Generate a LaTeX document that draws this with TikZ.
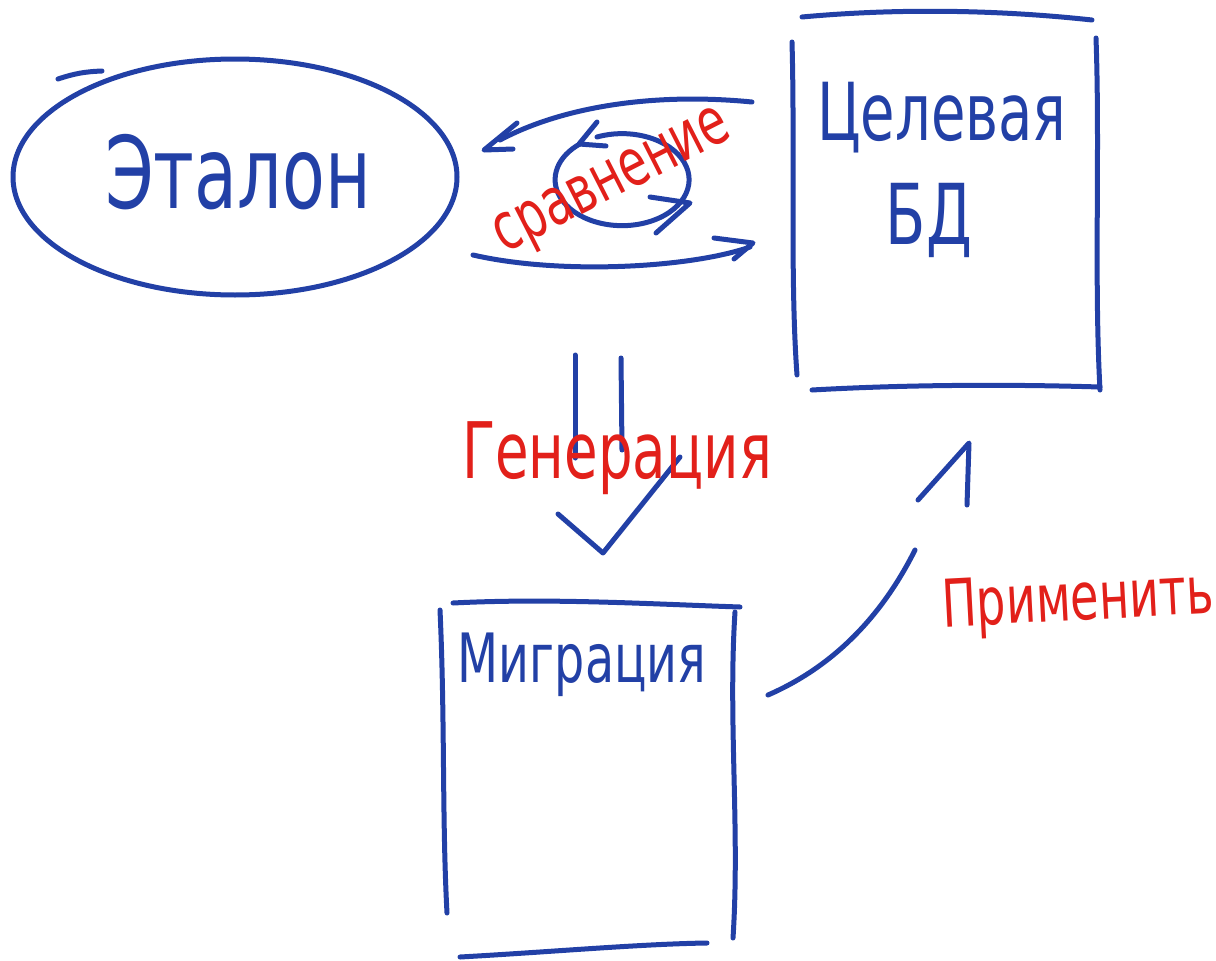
\documentclass[tikz,border=0pt]{standalone}
\usepackage{fontspec}
\newfontfamily\hand[FakeStretch=0.7]{DejaVu Sans}
\usetikzlibrary{shapes.geometric}
\definecolor{ink}{RGB}{34,64,166}
\definecolor{redink}{RGB}{226,32,26}
\begin{document}
\begin{tikzpicture}[x=1pt,y=-1pt,
  pen/.style={draw=ink,line width=5pt,line cap=round,line join=round},
  bluetxt/.style={text=ink,inner sep=0pt},
  redtxt/.style={text=redink,inner sep=0pt}]
\useasboundingbox[fill=white] (0,0) rectangle (1216,961);

% reference model
\node[pen,ellipse,minimum width=444pt,minimum height=236pt,inner sep=0pt]
  (etalon) at (235,177) {};
\node[bluetxt,font=\hand\fontsize{100}{100}\selectfont] (etalontxt) at (238,172) {Эталон};
\draw[pen] (58,79) to[bend left=8] (102,71);

% target database box
\coordinate (t1) at (802,17);  \coordinate (t2) at (1092,20);
\coordinate (t3) at (792,42);  \coordinate (t4) at (797,375);
\coordinate (t5) at (1096,38); \coordinate (t6) at (1100,390);
\coordinate (t7) at (812,390); \coordinate (t8) at (1100,387);
\draw[pen] (t1) .. controls (900,8) and (1000,10) .. (t2);
\draw[pen] (t3) .. controls (795,150) and (790,280) .. (t4);
\draw[pen] (t5) .. controls (1100,150) and (1094,280) .. (t6);
\draw[pen] (t7) .. controls (900,385) and (1000,384) .. (t8);
\node[bluetxt,font=\hand\fontsize{80}{80}\selectfont] (tgt1) at (942,118) {Целевая};
\node[bluetxt,font=\hand\fontsize{84}{84}\selectfont] (tgt2) at (929,220) {БД};

% migration box
\coordinate (m1) at (453,603); \coordinate (m2) at (740,607);
\coordinate (m3) at (440,610); \coordinate (m4) at (447,913);
\coordinate (m5) at (735,612); \coordinate (m6) at (733,938);
\coordinate (m7) at (460,957); \coordinate (m8) at (707,943);
\draw[pen] (m1) .. controls (550,598) and (650,604) .. (m2);
\draw[pen] (m3) .. controls (445,720) and (442,820) .. (m4);
\draw[pen] (m5) .. controls (728,720) and (740,830) .. (m6);
\draw[pen] (m7) .. controls (550,952) and (640,944) .. (m8);
\node[bluetxt,font=\hand\fontsize{68}{68}\selectfont] (migtxt) at (582,665) {Миграция};

% comparison arrows
\coordinate (ca) at (752,102);
\coordinate (cb) at (500,140);
\coordinate (cc) at (484,150);
\draw[pen] (ca) .. controls (650,92) and (560,108) .. (cb);
\draw[pen] (517,123) -- (cc) -- (513,149);
\coordinate (cd) at (473,255);
\coordinate (ce) at (750,247);
\draw[pen] (cd) .. controls (560,275) and (690,268) .. (ce);
\draw[pen] (714,238) -- (753,243) -- (734,259);

% rotation symbol between the arrows
\coordinate (rc) at (622,181);
\draw[pen] (rc) ++(-25,-44) arc[start angle=-112,end angle=232,x radius=67,y radius=46];
\draw[pen] (597,122) -- (579,144) -- (606,146);
\draw[pen] (650,197) -- (690,203) -- (656,233);

% generation arrow
\coordinate (g1) at (575,355); \coordinate (g2) at (575,458);
\coordinate (g3) at (621,358); \coordinate (g4) at (622,450);
\draw[pen] (g1) -- (g2);
\draw[pen] (g3) -- (g4);
\coordinate (gtip) at (603,553);
\draw[pen] (558,514) -- (gtip) -- (680,457);

% apply arrow
\coordinate (a1) at (768,695);
\coordinate (a2) at (915,550);
\draw[pen] (a1) .. controls (830,668) and (880,620) .. (a2);
\draw[pen] (918,500) -- (969,443) -- (967,505);

% red labels
\node[redtxt,font=\hand\fontsize{66}{66}\selectfont,rotate=27] (cmp) at (614,185) {сравнение};
\node[redtxt,font=\hand\fontsize{78}{78}\selectfont] (gen) at (617,458) {Генерация};
\node[redtxt,font=\hand\fontsize{66}{66}\selectfont,rotate=3] (apply) at (1078,603) {Применить};
\end{tikzpicture}
\end{document}
